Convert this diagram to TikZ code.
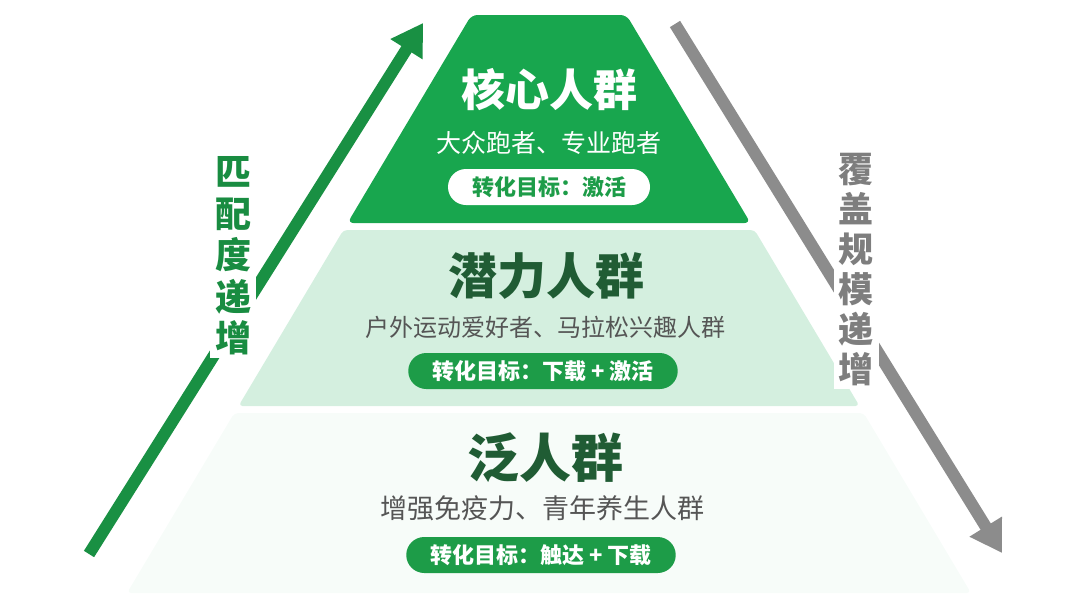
\documentclass[tikz,border=0pt]{standalone}
\usepackage{fontspec}
\setmainfont{Noto Sans CJK SC}
\usetikzlibrary{arrows.meta}
\definecolor{layone}{RGB}{24,166,78}
\definecolor{laytwo}{RGB}{212,239,223}
\definecolor{laythree}{RGB}{232,246,238}
\definecolor{pillgreen}{RGB}{29,156,72}
\definecolor{darkgreen}{RGB}{32,92,52}
\definecolor{sidegreen}{RGB}{25,140,65}
\definecolor{arrowgray}{RGB}{140,140,140}
\definecolor{textgray}{RGB}{85,85,85}
\begin{document}
\begin{tikzpicture}[x=1pt,y=-1pt,
  title/.style={font=\bfseries\fontsize{#1}{#1}\selectfont, inner sep=0pt},
  subtitle/.style={font=\fontsize{#1}{#1}\selectfont, inner sep=0pt},
  pill/.style={font=\bfseries\fontsize{22}{22}\selectfont, rounded corners=18pt,
    minimum height=36pt, inner xsep=24pt, inner ysep=0pt},
  sidetext/.style={font=\bfseries\fontsize{36}{41.6}\selectfont, align=center,
    fill=white, inner xsep=5pt, inner ysep=3pt},
  arrowline/.style={line width=12pt, -{Triangle[length=31pt,width=36pt]}}]
\useasboundingbox (0,0) rectangle (1080,608);
% layers of the pyramid
\coordinate (t1l) at (471.5,15);  \coordinate (t1r) at (626.5,15);
\coordinate (b1l) at (347.5,223); \coordinate (b1r) at (750.5,223);
\coordinate (t2l) at (343.4,230); \coordinate (t2r) at (754.6,230);
\coordinate (b2l) at (238.5,406); \coordinate (b2r) at (859.5,406);
\coordinate (t3l) at (234.3,413); \coordinate (t3r) at (863.7,413);
\coordinate (b3l) at (127,593);   \coordinate (b3r) at (971,593);
\fill [layone, rounded corners=6pt] (t1l) -- (t1r) -- (b1r) -- (b1l) -- cycle;
\fill [laytwo, rounded corners=4pt] (t2l) -- (t2r) -- (b2r) -- (b2l) -- cycle;
\shade [left color=laythree!35, middle color=laythree, right color=laythree!35,
  rounded corners=4pt] (t3l) -- (t3r) -- (b3r) -- (b3l) -- cycle;
% side arrows
\coordinate (upstart) at (89,554);  \coordinate (upend) at (423,23);
\coordinate (downstart) at (675,24); \coordinate (downend) at (1002,553);
\draw [sidegreen!85!layone, arrowline] (upstart) -- (upend);
\draw [arrowgray, arrowline] (downstart) -- (downend);
\node [sidetext, text=sidegreen] (match) at (233,256) {匹\\配\\度\\递\\增};
\node [sidetext, text=arrowgray!90!black, font=\bfseries\fontsize{35}{40}\selectfont]
  (cover) at (856,270) {覆\\盖\\规\\模\\递\\增};
% core
\node [title=44, text=white] (coretitle) at (549,90) {核心人群};
\node [subtitle=25, text=white] (coresub) at (549,143) {大众跑者、专业跑者};
\node [pill, fill=white, text=pillgreen] (corepill) at (549,187) {转化目标：激活};
% potential
\node [title=49, text=darkgreen] (pottitle) at (546,276) {潜力人群};
\node [subtitle=24, text=textgray] (potsub) at (545,327) {户外运动爱好者、马拉松兴趣人群};
\node [pill, fill=pillgreen, text=white] (potpill) at (543,371) {转化目标：下载 + 激活};
% broad
\node [title=52, text=darkgreen] (broadtitle) at (545,458) {泛人群};
\node [subtitle=27, text=textgray] (broadsub) at (542,508) {增强免疫力、青年养生人群};
\node [pill, fill=pillgreen, text=white] (broadpill) at (541,555) {转化目标：触达 + 下载};
\end{tikzpicture}
\end{document}
